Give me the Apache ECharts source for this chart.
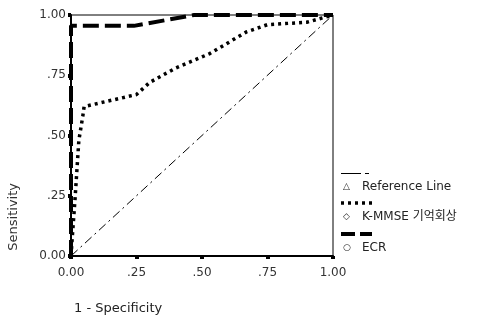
<!DOCTYPE html>
<html>
<head>
<meta charset="utf-8">
<script src="https://cdn.jsdelivr.net/npm/echarts@6/dist/echarts.min.js"></script>
<style>
  html, body { margin: 0; padding: 0; background: #fff; }
  #chart { width: 484px; height: 322px; }
</style>
</head>
<body>
<div id="chart"></div>
<script>
// ROC curve data
const seriesNames = ['Reference Line', 'K-MMSE 기억회상', 'ECR'];
const refFpr = [0, 1];
const refSens = [0, 1];
const kmmseFpr = [0, 0.005, 0.015, 0.03, 0.045, 0.05, 0.25, 0.30, 0.40, 0.53, 0.67, 0.75, 0.90, 1];
const kmmseSens = [0, 0.08, 0.23, 0.48, 0.58, 0.62, 0.67, 0.72, 0.78, 0.84, 0.93, 0.96, 0.97, 1];
const ecrFpr = [0, 0, 0.24, 0.47, 1];
const ecrSens = [0, 0.955, 0.955, 1, 1];
const tickLabels = ['0.00', '.25', '.50', '.75', '1.00'];

const font = '"DejaVu Sans", "Noto Sans CJK KR", sans-serif';
const zip = (xs, ys) => xs.map((x, i) => [x, ys[i]]);
const fmt = v => tickLabels[Math.round(v * 4)];
const txt = (left, top, text, size) => ({
  type: 'text', left: left, top: top,
  style: { text: text, fill: '#222', font: size + 'px ' + font }
});
const seg = (x1, x2, y, w, dash) => ({
  type: 'line', shape: { x1: x1, y1: y, x2: x2, y2: y },
  style: { stroke: '#000', lineWidth: w, lineDash: dash || null }
});

const chart = echarts.init(document.getElementById('chart'));

let option = {
  animation: false,
  backgroundColor: '#fff',
  grid: {
    left: 71, right: 151, top: 15, bottom: 66,
    show: true, borderColor: '#000', borderWidth: 1
  },
  xAxis: {
    type: 'value', min: 0, max: 1, interval: 0.25,
    axisLine: { lineStyle: { color: '#000', width: 2 } },
    axisTick: { show: true, length: 3, lineStyle: { color: '#000', width: 4 } },
    axisLabel: { formatter: fmt, margin: 11, color: '#333', fontSize: 12, fontFamily: font },
    splitLine: { show: false }
  },
  yAxis: {
    type: 'value', min: 0, max: 1, interval: 0.25,
    axisLine: { show: true, lineStyle: { color: '#000', width: 2 } },
    axisTick: { show: true, length: 3, lineStyle: { color: '#000', width: 4 } },
    axisLabel: { formatter: fmt, margin: 5, color: '#333', fontSize: 12, fontFamily: font },
    splitLine: { show: false }
  },
  series: [
    {
      name: seriesNames[0], type: 'line', data: zip(refFpr, refSens),
      showSymbol: false, clip: false,
      lineStyle: { color: '#000', width: 1, type: [9, 4, 2, 4] }
    },
    {
      name: seriesNames[1], type: 'line', data: zip(kmmseFpr, kmmseSens),
      showSymbol: false, clip: false,
      lineStyle: { color: '#000', width: 3.5, type: [3, 4] }
    },
    {
      name: seriesNames[2], type: 'line', data: zip(ecrFpr, ecrSens),
      showSymbol: false, clip: false,
      lineStyle: { color: '#000', width: 4, type: [16, 6] }
    }
  ],
  graphic: [
    {
      type: 'text', left: 7, top: 183, rotation: Math.PI / 2,
      style: { text: 'Sensitivity', fill: '#333', font: '13px ' + font }
    },
    txt(74, 302, '1 - Specificity', 13),
    // legend
    seg(341, 361, 173.5, 1),
    seg(365, 369, 173.5, 1),
    txt(343, 182, '△', 9),
    txt(362, 181, seriesNames[0], 12),
    seg(341, 372, 203, 3.5, [3, 4]),
    txt(343, 212, '◇', 9),
    txt(362, 211, seriesNames[1], 12),
    seg(341, 372, 234, 4, [14, 5]),
    txt(343, 243, '○', 9),
    txt(362, 242, seriesNames[2], 12)
  ]
};
chart.setOption(option);
</script>
</body>
</html>
